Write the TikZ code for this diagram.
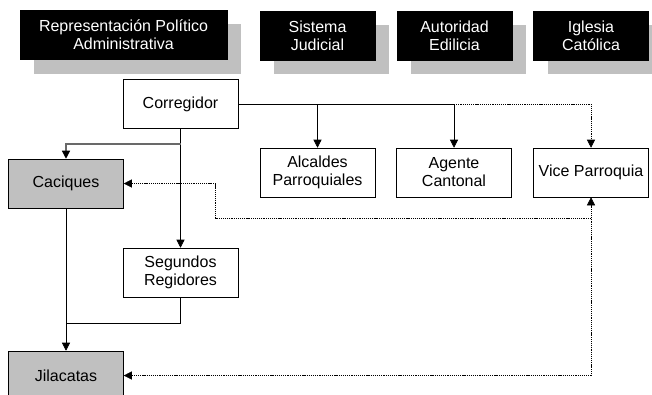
\documentclass[tikz,border=0pt]{standalone}
\usepackage{fontspec}
\setmainfont{Liberation Sans}
\usetikzlibrary{arrows.meta, shadows, calc}

\definecolor{shadowgray}{RGB}{192,192,192}
\definecolor{branchgray}{RGB}{105,105,105}

\begin{document}
\begin{tikzpicture}[
        x=0.75pt, y=-0.75pt,
        every node/.style={font=\fontsize{12}{13.5}\selectfont, align=center, inner sep=0pt},
        head/.style={fill=black, draw=black, text=white, minimum height=37pt,
            drop shadow={shadow xshift=10.5pt, shadow yshift=-10.5pt, fill=shadowgray, opacity=1}},
        unit/.style={draw, thin, fill=white, minimum width=86.25pt, minimum height=36.75pt},
        grayunit/.style={unit, fill=shadowgray},
        line/.style={thin, >={Triangle[length=6pt, width=6pt, color=black]}},
        dotline/.style={line, dash pattern=on 0.9pt off 0.7pt}
    ]
    \useasboundingbox (0,0) rectangle (652,394);

    % cabeceras
    \node[head, minimum width=155.25pt] (rep) at (123.5,35) {Representación Político\\Administrativa};
    \node[head, minimum width=86.25pt] (jud) at (317.5,35.5) {Sistema\\Judicial};
    \node[head, minimum width=86.25pt] (edil) at (454.5,35.5) {Autoridad\\Edilicia};
    \node[head, minimum width=86.25pt] (igl) at (591,35.5) {Iglesia\\Católica};

    % cargos
    \node[unit] (corr) at (180.5,104) {Corregidor};
    \node[unit] (alc) at (317.5,172.5) {Alcaldes\\Parroquiales};
    \node[unit] (agente) at (454,172.5) {Agente\\Cantonal};
    \node[unit] (vice) at (591,172.5) {Vice Parroquia};
    \node[grayunit] (cac) at (66,183.5) {Caciques};
    \node[unit] (seg) at (180.5,272.5) {Segundos\\Regidores};
    \node[grayunit] (jila) at (66,375.5) {Jilacatas};

    \coordinate (split) at (180.5,144);
    \coordinate (merge) at (66,323);
    \coordinate (tap) at (591,218);
    \coordinate (elbow) at (215,183.5);

    \draw[line, ->] (corr.east) -| (agente.north);
    \draw[line, ->] (alc.north |- corr.east) -- (alc.north);
    \draw[dotline, ->] (agente.north |- corr.east) -| (vice.north);

    \draw[line, ->] (corr.south) -- (seg.north);
    \draw[line, ->, draw=branchgray, line width=0.9pt] (split) -| (cac.north);
    \draw[line, ->] (cac.south) -- (jila.north);
    \draw[line] (seg.south) |- (merge);

    \draw[dotline, <->] (jila.east) -| (vice.south);
    \draw[dotline, ->] (tap) -| (elbow) -- (cac.east);

\end{tikzpicture}
\end{document}
